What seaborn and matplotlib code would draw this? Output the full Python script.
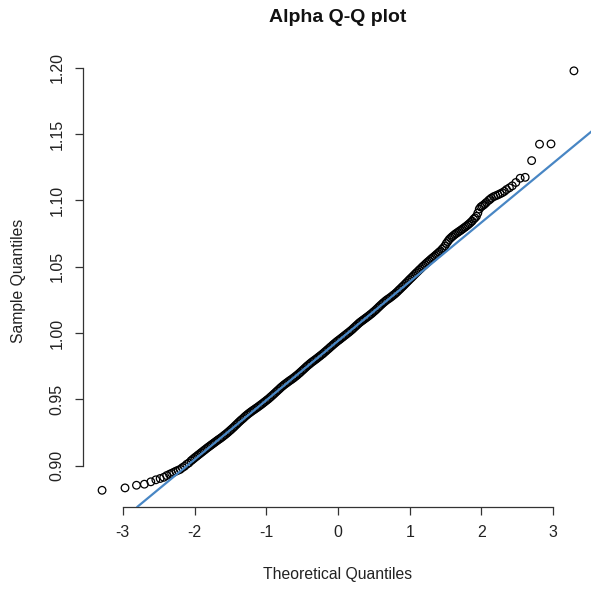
import matplotlib
matplotlib.use("Agg")
import matplotlib.pyplot as plt
import seaborn as sns
import pandas as pd

# ---- data ----
lower_tail_theoretical = [-3.29, -2.97, -2.81, -2.70, -2.61, -2.54, -2.48, -2.43, -2.39, -2.35,
                          -2.32, -2.29, -2.26, -2.23, -2.20, -2.17, -2.14, -2.11, -2.08]
lower_tail_sample = [0.8814, 0.8832, 0.8852, 0.8860, 0.8878, 0.8893, 0.8903, 0.8912, 0.8925, 0.8935,
                     0.8942, 0.8950, 0.8958, 0.8965, 0.8972, 0.8985, 0.8995, 0.9010, 0.9020]

# dense central band, read every 0.02 along the theoretical axis
body_theoretical = [
    -2.05, -2.03, -2.01, -1.99, -1.97, -1.95, -1.93, -1.91, -1.89, -1.87,
    -1.85, -1.83, -1.81, -1.79, -1.77, -1.75, -1.73, -1.71, -1.69, -1.67,
    -1.65, -1.63, -1.61, -1.59, -1.57, -1.55, -1.53, -1.51, -1.49, -1.47,
    -1.45, -1.43, -1.41, -1.39, -1.37, -1.35, -1.33, -1.31, -1.29, -1.27,
    -1.25, -1.23, -1.21, -1.19, -1.17, -1.15, -1.13, -1.11, -1.09, -1.07,
    -1.05, -1.03, -1.01, -0.99, -0.97, -0.95, -0.93, -0.91, -0.89, -0.87,
    -0.85, -0.83, -0.81, -0.79, -0.77, -0.75, -0.73, -0.71, -0.69, -0.67,
    -0.65, -0.63, -0.61, -0.59, -0.57, -0.55, -0.53, -0.51, -0.49, -0.47,
    -0.45, -0.43, -0.41, -0.39, -0.37, -0.35, -0.33, -0.31, -0.29, -0.27,
    -0.25, -0.23, -0.21, -0.19, -0.17, -0.15, -0.13, -0.11, -0.09, -0.07,
    -0.05, -0.03, -0.01, 0.01, 0.03, 0.05, 0.07, 0.09, 0.11, 0.13,
    0.15, 0.17, 0.19, 0.21, 0.23, 0.25, 0.27, 0.29, 0.31, 0.33,
    0.35, 0.37, 0.39, 0.41, 0.43, 0.45, 0.47, 0.49, 0.51, 0.53,
    0.55, 0.57, 0.59, 0.61, 0.63, 0.65, 0.67, 0.69, 0.71, 0.73,
    0.75, 0.77, 0.79, 0.81, 0.83, 0.85, 0.87, 0.89, 0.91, 0.93,
    0.95, 0.97, 0.99, 1.01, 1.03, 1.05, 1.07, 1.09, 1.11, 1.13,
    1.15, 1.17, 1.19, 1.21, 1.23, 1.25, 1.27, 1.29, 1.31, 1.33,
    1.35, 1.37, 1.39, 1.41, 1.43, 1.45, 1.47, 1.49, 1.51, 1.53,
    1.55, 1.57, 1.59, 1.61, 1.63, 1.65, 1.67, 1.69, 1.71, 1.73,
    1.75, 1.77, 1.79, 1.81, 1.83, 1.85, 1.87]
body_sample = [
    0.9036, 0.9045, 0.9054, 0.9063, 0.9071, 0.9080, 0.9088, 0.9097, 0.9105, 0.9114,
    0.9122, 0.9131, 0.9139, 0.9147, 0.9155, 0.9163, 0.9171, 0.9179, 0.9187, 0.9195,
    0.9202, 0.9210, 0.9218, 0.9227, 0.9235, 0.9244, 0.9253, 0.9263, 0.9272, 0.9282,
    0.9292, 0.9303, 0.9313, 0.9324, 0.9334, 0.9344, 0.9353, 0.9363, 0.9373, 0.9382,
    0.9391, 0.9399, 0.9407, 0.9415, 0.9422, 0.9430, 0.9437, 0.9445, 0.9453, 0.9461,
    0.9469, 0.9478, 0.9486, 0.9495, 0.9503, 0.9513, 0.9522, 0.9532, 0.9542, 0.9552,
    0.9562, 0.9572, 0.9582, 0.9592, 0.9601, 0.9610, 0.9618, 0.9626, 0.9634, 0.9642,
    0.9649, 0.9657, 0.9665, 0.9674, 0.9682, 0.9692, 0.9701, 0.9711, 0.9721, 0.9731,
    0.9741, 0.9751, 0.9760, 0.9769, 0.9778, 0.9786, 0.9794, 0.9802, 0.9810, 0.9819,
    0.9827, 0.9836, 0.9844, 0.9854, 0.9863, 0.9873, 0.9882, 0.9892, 0.9901, 0.9911,
    0.9920, 0.9929, 0.9938, 0.9946, 0.9954, 0.9963, 0.9971, 0.9980, 0.9988, 0.9997,
    1.0005, 1.0014, 1.0023, 1.0033, 1.0043, 1.0053, 1.0063, 1.0073, 1.0082, 1.0090,
    1.0098, 1.0106, 1.0114, 1.0122, 1.0130, 1.0139, 1.0147, 1.0157, 1.0166, 1.0176,
    1.0186, 1.0197, 1.0207, 1.0217, 1.0227, 1.0236, 1.0245, 1.0253, 1.0260, 1.0268,
    1.0276, 1.0285, 1.0293, 1.0303, 1.0313, 1.0324, 1.0334, 1.0345, 1.0355, 1.0366,
    1.0377, 1.0388, 1.0399, 1.0410, 1.0420, 1.0431, 1.0442, 1.0453, 1.0463, 1.0474,
    1.0484, 1.0495, 1.0505, 1.0515, 1.0525, 1.0535, 1.0544, 1.0554, 1.0563, 1.0572,
    1.0581, 1.0591, 1.0600, 1.0610, 1.0619, 1.0631, 1.0642, 1.0656, 1.0675, 1.0690,
    1.0705, 1.0716, 1.0726, 1.0735, 1.0744, 1.0752, 1.0759, 1.0767, 1.0774, 1.0782,
    1.0790, 1.0798, 1.0806, 1.0815, 1.0824, 1.0834, 1.0844]

upper_tail_theoretical = [1.89, 1.91, 1.93, 1.95, 1.97, 1.99, 2.01, 2.03, 2.05, 2.07,
                          2.10, 2.12, 2.14, 2.17, 2.20, 2.23, 2.26, 2.29, 2.32, 2.35,
                          2.39, 2.43, 2.48, 2.54, 2.61, 2.70, 2.81, 2.97, 3.29]
upper_tail_sample = [1.0858, 1.0868, 1.0880, 1.0905, 1.0935, 1.0950, 1.0958, 1.0965, 1.0975, 1.0985,
                     1.1000, 1.1008, 1.1018, 1.1028, 1.1035, 1.1042, 1.1050, 1.1058, 1.1068, 1.1082,
                     1.1095, 1.1110, 1.1135, 1.1167, 1.1174, 1.1300, 1.1424, 1.1426, 1.1977]

line_intercept = 0.9940
line_slope = 0.0447

x_ticks = [-3, -2, -1, 0, 1, 2, 3]
y_ticks = [0.90, 0.95, 1.00, 1.05, 1.10, 1.15, 1.20]
y_tick_labels = ["0.90", "0.95", "1.00", "1.05", "1.10", "1.15", "1.20"]

title = "Alpha Q-Q plot"
x_label = "Theoretical Quantiles"
y_label = "Sample Quantiles"

df = pd.DataFrame({
    "theoretical": lower_tail_theoretical + body_theoretical + upper_tail_theoretical,
    "sample": lower_tail_sample + body_sample + upper_tail_sample,
})

# ---- style ----
sns.set_theme(style="white")
plt.rcParams["font.family"] = ["Liberation Sans", "DejaVu Sans"]

W, H = 591, 589
fig = plt.figure(figsize=(W / 100, H / 100), dpi=100)
left_px, right_px, top_px, bottom_px = 83.2, 592.8, 54, 507
ax = fig.add_axes([left_px / W, 1 - bottom_px / H, (right_px - left_px) / W, (bottom_px - top_px) / H])
ax.set_facecolor("white")

sns.scatterplot(data=df, x="theoretical", y="sample", ax=ax, marker="o", s=30,
                facecolors="none", edgecolor="black", linewidth=0.9, legend=False, zorder=2)
ax.axline((0, line_intercept), slope=line_slope, color="#4886C4", lw=1.6, zorder=3)

ax.set_xlim(-3.553, 3.553)
ax.set_ylim(0.8688, 1.2104)

for s in ["top", "right"]:
    ax.spines[s].set_visible(False)
for s in ["left", "bottom"]:
    ax.spines[s].set_color("#333333")
    ax.spines[s].set_linewidth(0.9)
ax.spines["left"].set_bounds(0.90, 1.20)
ax.spines["bottom"].set_bounds(-3, 3)

ax.set_xticks(x_ticks)
ax.set_xticklabels([str(t) for t in x_ticks])
ax.set_yticks(y_ticks)
ax.set_yticklabels(y_tick_labels, rotation=90, va="center")
ax.tick_params(axis="both", which="major", direction="out", length=5.8, width=0.9,
               color="#333333", labelcolor="#222222", labelsize=11.5, pad=7.5,
               bottom=True, left=True)

ax.set_xlabel(x_label, fontsize=11.3, color="#222222")
ax.set_ylabel(y_label, fontsize=11.3, color="#222222")
ax_h = bottom_px - top_px
ax_w = right_px - left_px
ax.xaxis.set_label_coords(0.5, -(575 - bottom_px) / ax_h)
ax.xaxis.label.set_va("center")
ax.yaxis.set_label_coords(-(left_px - 18) / ax_w, 0.5)
ax.yaxis.label.set_va("center")

ax.set_title(title, fontsize=14, fontweight="bold", color="#111111",
             y=(bottom_px - 17) / ax_h, va="center", pad=0)

fig.savefig("out.png", dpi=100, facecolor="white")
